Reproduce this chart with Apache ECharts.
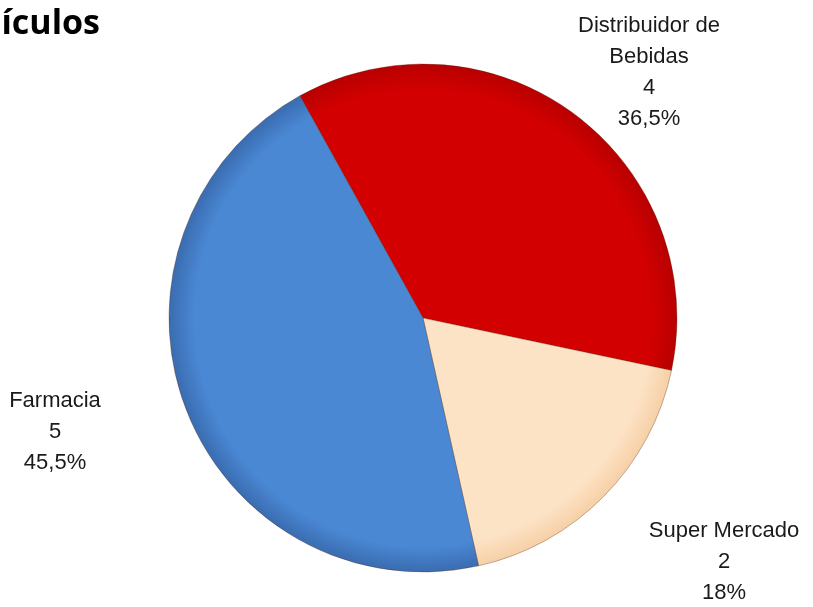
<!DOCTYPE html>
<html>
<head>
<meta charset="utf-8">
<script src="https://cdn.jsdelivr.net/npm/echarts@6/dist/echarts.min.js"></script>
<style>
	html, body { margin: 0; padding: 0; background: #fff; }
	#main-pie { width: 813px; height: 607px; }
</style>
</head>
<body>
<div id="main-pie"></div>
<script>
// datos del grafico
const categorias = ["Distribuidor de Bebidas", "Super Mercado", "Farmacia"];
const valores = [4, 2, 5];
const porcentajes = ["36,5%", "18%", "45,5%"];
const colores = [
	["#d20000", "#b80000"],
	["#fde3c6", "#f6d0a6"],
	["#4a88d4", "#3a6cb0"]
];
// donde va cada etiqueta (centro del bloque de texto)
const posEtiquetas = [[649, 72], [724, 562], [55, 432]];

const cx = 423, cy = 318, radio = 254;

var myChart = echarts.init(document.querySelector("#main-pie"));

var datos = [];
for (var i = 0; i < categorias.length; i++) {
	datos.push({
		name: categorias[i],
		value: valores[i],
		itemStyle: {
			color: {
				type: "radial", x: cx, y: cy, r: radio, global: true,
				colorStops: [
					{ offset: 0, color: colores[i][0] },
					{ offset: 0.9, color: colores[i][0] },
					{ offset: 1, color: colores[i][1] }
				]
			}
		}
	});
}

var option = {
	animation: false,
	graphic: [{
		type: "text",
		x: 100, y: 24,
		style: {
			text: "Vehículos",
			font: "bold 34px 'Open Sans', 'Liberation Sans', sans-serif",
			fill: "#000",
			textAlign: "right",
			textVerticalAlign: "middle"
		}
	}],
	series: [{
		type: "pie",
		center: [cx, cy],
		radius: radio,
		startAngle: 119,
		clockwise: true,
		avoidLabelOverlap: false,
		itemStyle: {
			borderColor: "rgba(90,40,20,0.35)",
			borderWidth: 1
		},
		label: {
			show: true,
			position: "outside",
			color: "#1a1a1a",
			fontFamily: "'Liberation Sans', sans-serif",
			fontSize: 22,
			lineHeight: 31,
			align: "center",
			formatter: function (p) {
				var nombre = p.name.replace("Distribuidor de ", "Distribuidor de\n");
				return nombre + "\n" + p.value + "\n" + porcentajes[p.dataIndex];
			}
		},
		labelLine: { show: false },
		labelLayout: function (p) {
			var pos = posEtiquetas[p.dataIndex];
			return { x: pos[0], y: pos[1], align: "center", verticalAlign: "middle" };
		},
		emphasis: { disabled: true },
		data: datos
	}]
};
myChart.setOption(option);
</script>
</body>
</html>
